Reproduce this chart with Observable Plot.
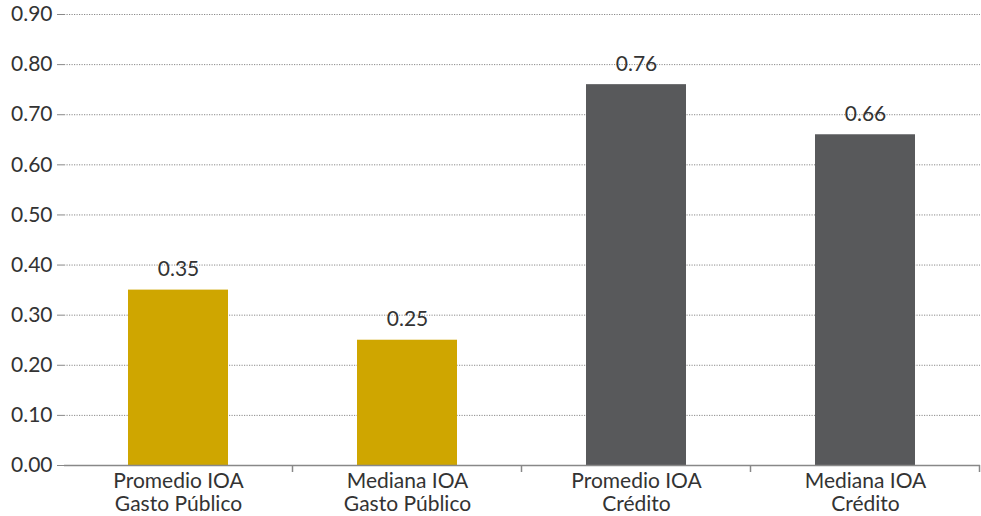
<!DOCTYPE html>
<html>
<head>
<meta charset="utf-8">
<script src="https://cdn.jsdelivr.net/npm/d3@7"></script>
<script src="https://cdn.jsdelivr.net/npm/@observablehq/plot@0.6"></script>
<style>
  html, body { margin: 0; padding: 0; background: #fff; }
  #chart svg { display: block; font-family: Lato, "Open Sans", sans-serif; }
</style>
</head>
<body>
<div id="chart"></div>
<script>
const categories = ["Promedio IOA\nGasto Público", "Mediana IOA\nGasto Público", "Promedio IOA\nCrédito", "Mediana IOA\nCrédito"];
const values = [0.35, 0.25, 0.76, 0.66];
const valueLabels = ["0.35", "0.25", "0.76", "0.66"];
const barColors = ["#CFA600", "#CFA600", "#58595B", "#58595B"];
const yTicks = [0, 0.1, 0.2, 0.3, 0.4, 0.5, 0.6, 0.7, 0.8, 0.9];

const data = categories.map((c, i) => ({cat: c, value: values[i], label: valueLabels[i], color: barColors[i]}));

const FS = 21;

const plot = Plot.plot({
  width: 981,
  height: 516,
  marginLeft: 64,
  marginRight: 1,
  marginTop: 14,
  marginBottom: 51,
  style: {fontFamily: "Lato, 'Open Sans', sans-serif", fontSize: FS + "px", color: "#333", background: "#fff"},
  x: {domain: categories, paddingInner: 0.563, paddingOuter: 0.2815, label: null},
  y: {domain: [0, 0.9], label: null},
  marks: [
    Plot.ruleY(yTicks.slice(1), {stroke: "#8a8a8a", strokeWidth: 1, strokeDasharray: "1.2,1.3"}),
    Plot.barY(data, {x: "cat", y: "value", fill: "color"}),
    Plot.text(data, {x: "cat", y: "value", text: "label", dy: -14, fontSize: FS, fill: "#333", lineAnchor: "bottom"}),
    Plot.axisY({ticks: yTicks, tickFormat: d3.format(".2f"), tickSize: 7, tickPadding: 5, stroke: "#888", fill: "#333", fontSize: FS}),
    Plot.ruleX([0], {stroke: "#888", strokeWidth: 1.5}),
    Plot.axisX({tickSize: 0, tickPadding: 6, fill: "#333", fontSize: FS, lineHeight: 1.1}),
    Plot.ruleY([0], {stroke: "#888", strokeWidth: 1.5})
  ]
});

document.getElementById("chart").appendChild(plot);

// boundary tick marks between categories, from the library's x scale
const xs = plot.scale("x");
const ys = plot.scale("y");
const y0 = ys.apply(0);
const bounds = categories.map(c => xs.apply(c) + xs.bandwidth / 2 + xs.step / 2);
d3.select(plot).append("g")
  .selectAll("line")
  .data(bounds)
  .join("line")
  .attr("x1", d => d).attr("x2", d => d)
  .attr("y1", y0).attr("y2", y0 + 7)
  .attr("stroke", "#888").attr("stroke-width", 1.5);
</script>
</body>
</html>
